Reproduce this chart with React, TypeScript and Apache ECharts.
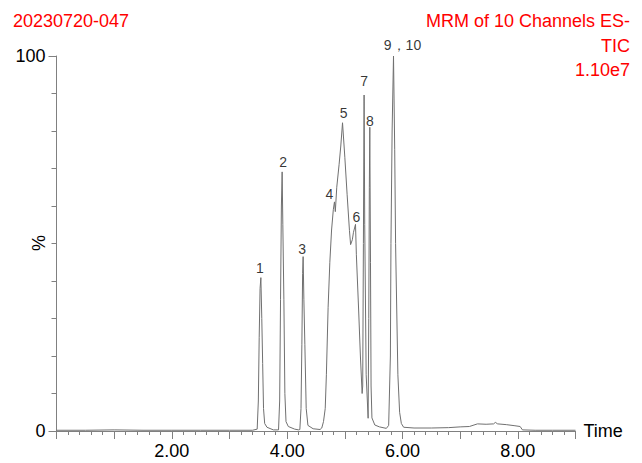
import React, { useEffect, useRef } from "react";
import * as echarts from "echarts";

// Chromatogram trace: retention time (min) and relative intensity (%)
const times: number[] = [
  0.0, 0.5, 1.0, 1.5, 2.0, 2.5, 3.0, 3.4, 3.48, 3.5, 3.515, 3.53, 3.544, 3.56, 3.575, 3.59, 3.61, 3.65, 3.76,
  3.85, 3.87, 3.885, 3.9, 3.913, 3.925, 3.943, 3.96, 3.98, 4.02, 4.13, 4.2,
  4.22, 4.24, 4.255, 4.268, 4.277, 4.29, 4.307, 4.33, 4.36, 4.45, 4.57,
  4.6, 4.63, 4.66, 4.68, 4.71, 4.74, 4.77, 4.8, 4.82, 4.835, 4.86, 4.9, 4.93, 4.96,
  5.0, 5.04, 5.08, 5.1, 5.13, 5.15, 5.185, 5.2, 5.24, 5.27, 5.3,
  5.31, 5.322, 5.334, 5.345, 5.37, 5.404, 5.415, 5.425, 5.433, 5.445, 5.455, 5.47, 5.52, 5.6, 5.72,
  5.76, 5.79, 5.8, 5.82, 5.844, 5.865, 5.88, 5.92, 5.95, 5.98, 6.02,
  6.2, 6.5, 6.8, 7.0, 7.16, 7.3, 7.45, 7.58, 7.61, 7.65, 7.8, 7.95, 8.04, 8.08, 8.3, 8.6, 9.0,
];
const intensity: number[] = [
  0.2, 0.2, 0.3, 0.2, 0.2, 0.2, 0.2, 0.2, 0.5, 8, 25, 38, 40.9, 30, 18, 6, 2, 1, 0.3,
  0.3, 8, 35, 60, 69.1, 55, 35, 10, 2.5, 1.2, 0.5, 0.3,
  0.4, 6, 23, 42, 46.5, 35, 23, 6, 1.5, 0.6, 0.4,
  0.8, 2.5, 6, 15, 33, 45, 53.6, 59, 61.1, 58.5, 65, 71, 76, 82.2,
  73, 63, 53.5, 49.7, 51, 53, 55.1, 47, 32, 20, 10,
  12, 50, 89.6, 55, 15, 3.4, 30, 65, 81, 45, 12, 3.5, 1.6, 1.1, 0.7,
  1.5, 20, 50, 80, 100, 75, 50, 15, 5, 2, 1.0,
  0.8, 0.8, 0.9, 1.1, 1.2, 1.9, 1.8, 1.9, 2.3, 1.9, 1.7, 1.4, 1.2, 0.3, 0.2, 0.2, 0.2,
];

// Peak annotations
const peakNames: string[] = ["1", "2", "3", "4", "5", "6", "7", "8", "9，10"];
const peakTimes: number[] = [3.544, 3.913, 4.277, 4.82, 4.96, 5.185, 5.334, 5.433, 5.844];
const peakValues: number[] = [40.9, 69.1, 46.5, 61.1, 82.2, 55.1, 89.6, 81.0, 100];

const xTickLabels: Record<number, string> = { 2: "2.00", 4: "4.00", 6: "6.00", 8: "8.00" };
const yTickLabels: Record<number, string> = { 0: "0", 100: "100" };

const labelOffsets: number[][] = [
  [-1, -10], [1, -9.5], [-1, -7.5], [-5, -8], [1, -9.5], [1, -7], [0, -14.5], [0, -6], [9, -11],
];

const FONT = "'Liberation Sans', Arial, sans-serif";

export default function App() {
  const ref = useRef<HTMLDivElement>(null);
  useEffect(() => {
    if (!ref.current) return;
    const chart = echarts.init(ref.current, null, { renderer: "svg" });
    const trace = times.map((t, i) => [t, intensity[i]]);
    const peaks = peakTimes.map((t, i) => ({
      value: [t, peakValues[i]],
      name: peakNames[i],
      label: { offset: labelOffsets[i] },
    }));
    chart.setOption({
      animation: false,
      backgroundColor: "#ffffff",
      textStyle: { fontFamily: FONT },
      grid: { left: 56.5, right: 66.5, top: 56, bottom: 32, containLabel: false, outerBoundsMode: "none" },
      graphic: [
        {
          type: "text",
          x: 13,
          y: 21,
          style: { text: "20230720-047", fill: "#ff0000", font: `18px ${FONT}`, textVerticalAlign: "middle" },
        },
        {
          type: "text",
          x: 630,
          y: 21,
          style: { text: "MRM of 10 Channels ES-", fill: "#ff0000", font: `18px ${FONT}`, textAlign: "right", textVerticalAlign: "middle" },
        },
        {
          type: "text",
          x: 630,
          y: 46,
          style: { text: "TIC", fill: "#ff0000", font: `18px ${FONT}`, textAlign: "right", textVerticalAlign: "middle" },
        },
        {
          type: "text",
          x: 630,
          y: 70,
          style: { text: "1.10e7", fill: "#ff0000", font: `18px ${FONT}`, textAlign: "right", textVerticalAlign: "middle" },
        },
        {
          type: "text",
          x: 39,
          y: 243,
          rotation: Math.PI / 2,
          style: { text: "%", fill: "#000", font: `18px ${FONT}`, textAlign: "center", textVerticalAlign: "middle" },
        },
      ],
      xAxis: {
        type: "value",
        min: 0,
        max: 9,
        interval: 1,
        name: "Time",
        nameLocation: "end",
        nameGap: 8,
        nameTextStyle: { color: "#000", fontSize: 18, fontFamily: FONT, verticalAlign: "middle" },
        axisLine: { show: true, lineStyle: { color: "#808080", width: 1 } },
        axisTick: { show: true, length: 8, lineStyle: { color: "#808080" } },
        minorTick: { show: true, splitNumber: 5, length: 4, lineStyle: { color: "#808080" } },
        splitLine: { show: false },
        axisLabel: {
          color: "#000",
          fontSize: 18,
          fontFamily: FONT,
          margin: 11,
          showMaxLabel: true,
          formatter: (v: number) => xTickLabels[Math.round(v)] ?? "",
        },
      },
      yAxis: {
        type: "value",
        min: 0,
        max: 100,
        interval: 100,
        axisLine: { show: true, lineStyle: { color: "#808080", width: 1 } },
        axisTick: { show: true, length: 8, lineStyle: { color: "#808080" } },
        minorTick: { show: true, splitNumber: 10, length: 5, lineStyle: { color: "#808080" } },
        splitLine: { show: false },
        axisLabel: {
          color: "#000",
          fontSize: 18,
          fontFamily: FONT,
          margin: 11,
          formatter: (v: number) => yTickLabels[Math.round(v)] ?? "",
        },
      },
      series: [
        {
          type: "line",
          data: trace,
          showSymbol: false,
          symbol: "none",
          lineStyle: { color: "#707070", width: 1 },
          silent: true,
        },
        {
          type: "scatter",
          data: peaks,
          symbolSize: 0,
          silent: true,
          label: {
            show: true,
            position: "inside",
            formatter: (p: any) => p.name,
            color: "#000",
            fontSize: 14,
            fontFamily: FONT,
          },
        },
      ],
    });
    return () => chart.dispose();
  }, []);
  return <div ref={ref} style={{ width: 642, height: 463, position: "absolute", left: 0, top: 0 }} />;
}
